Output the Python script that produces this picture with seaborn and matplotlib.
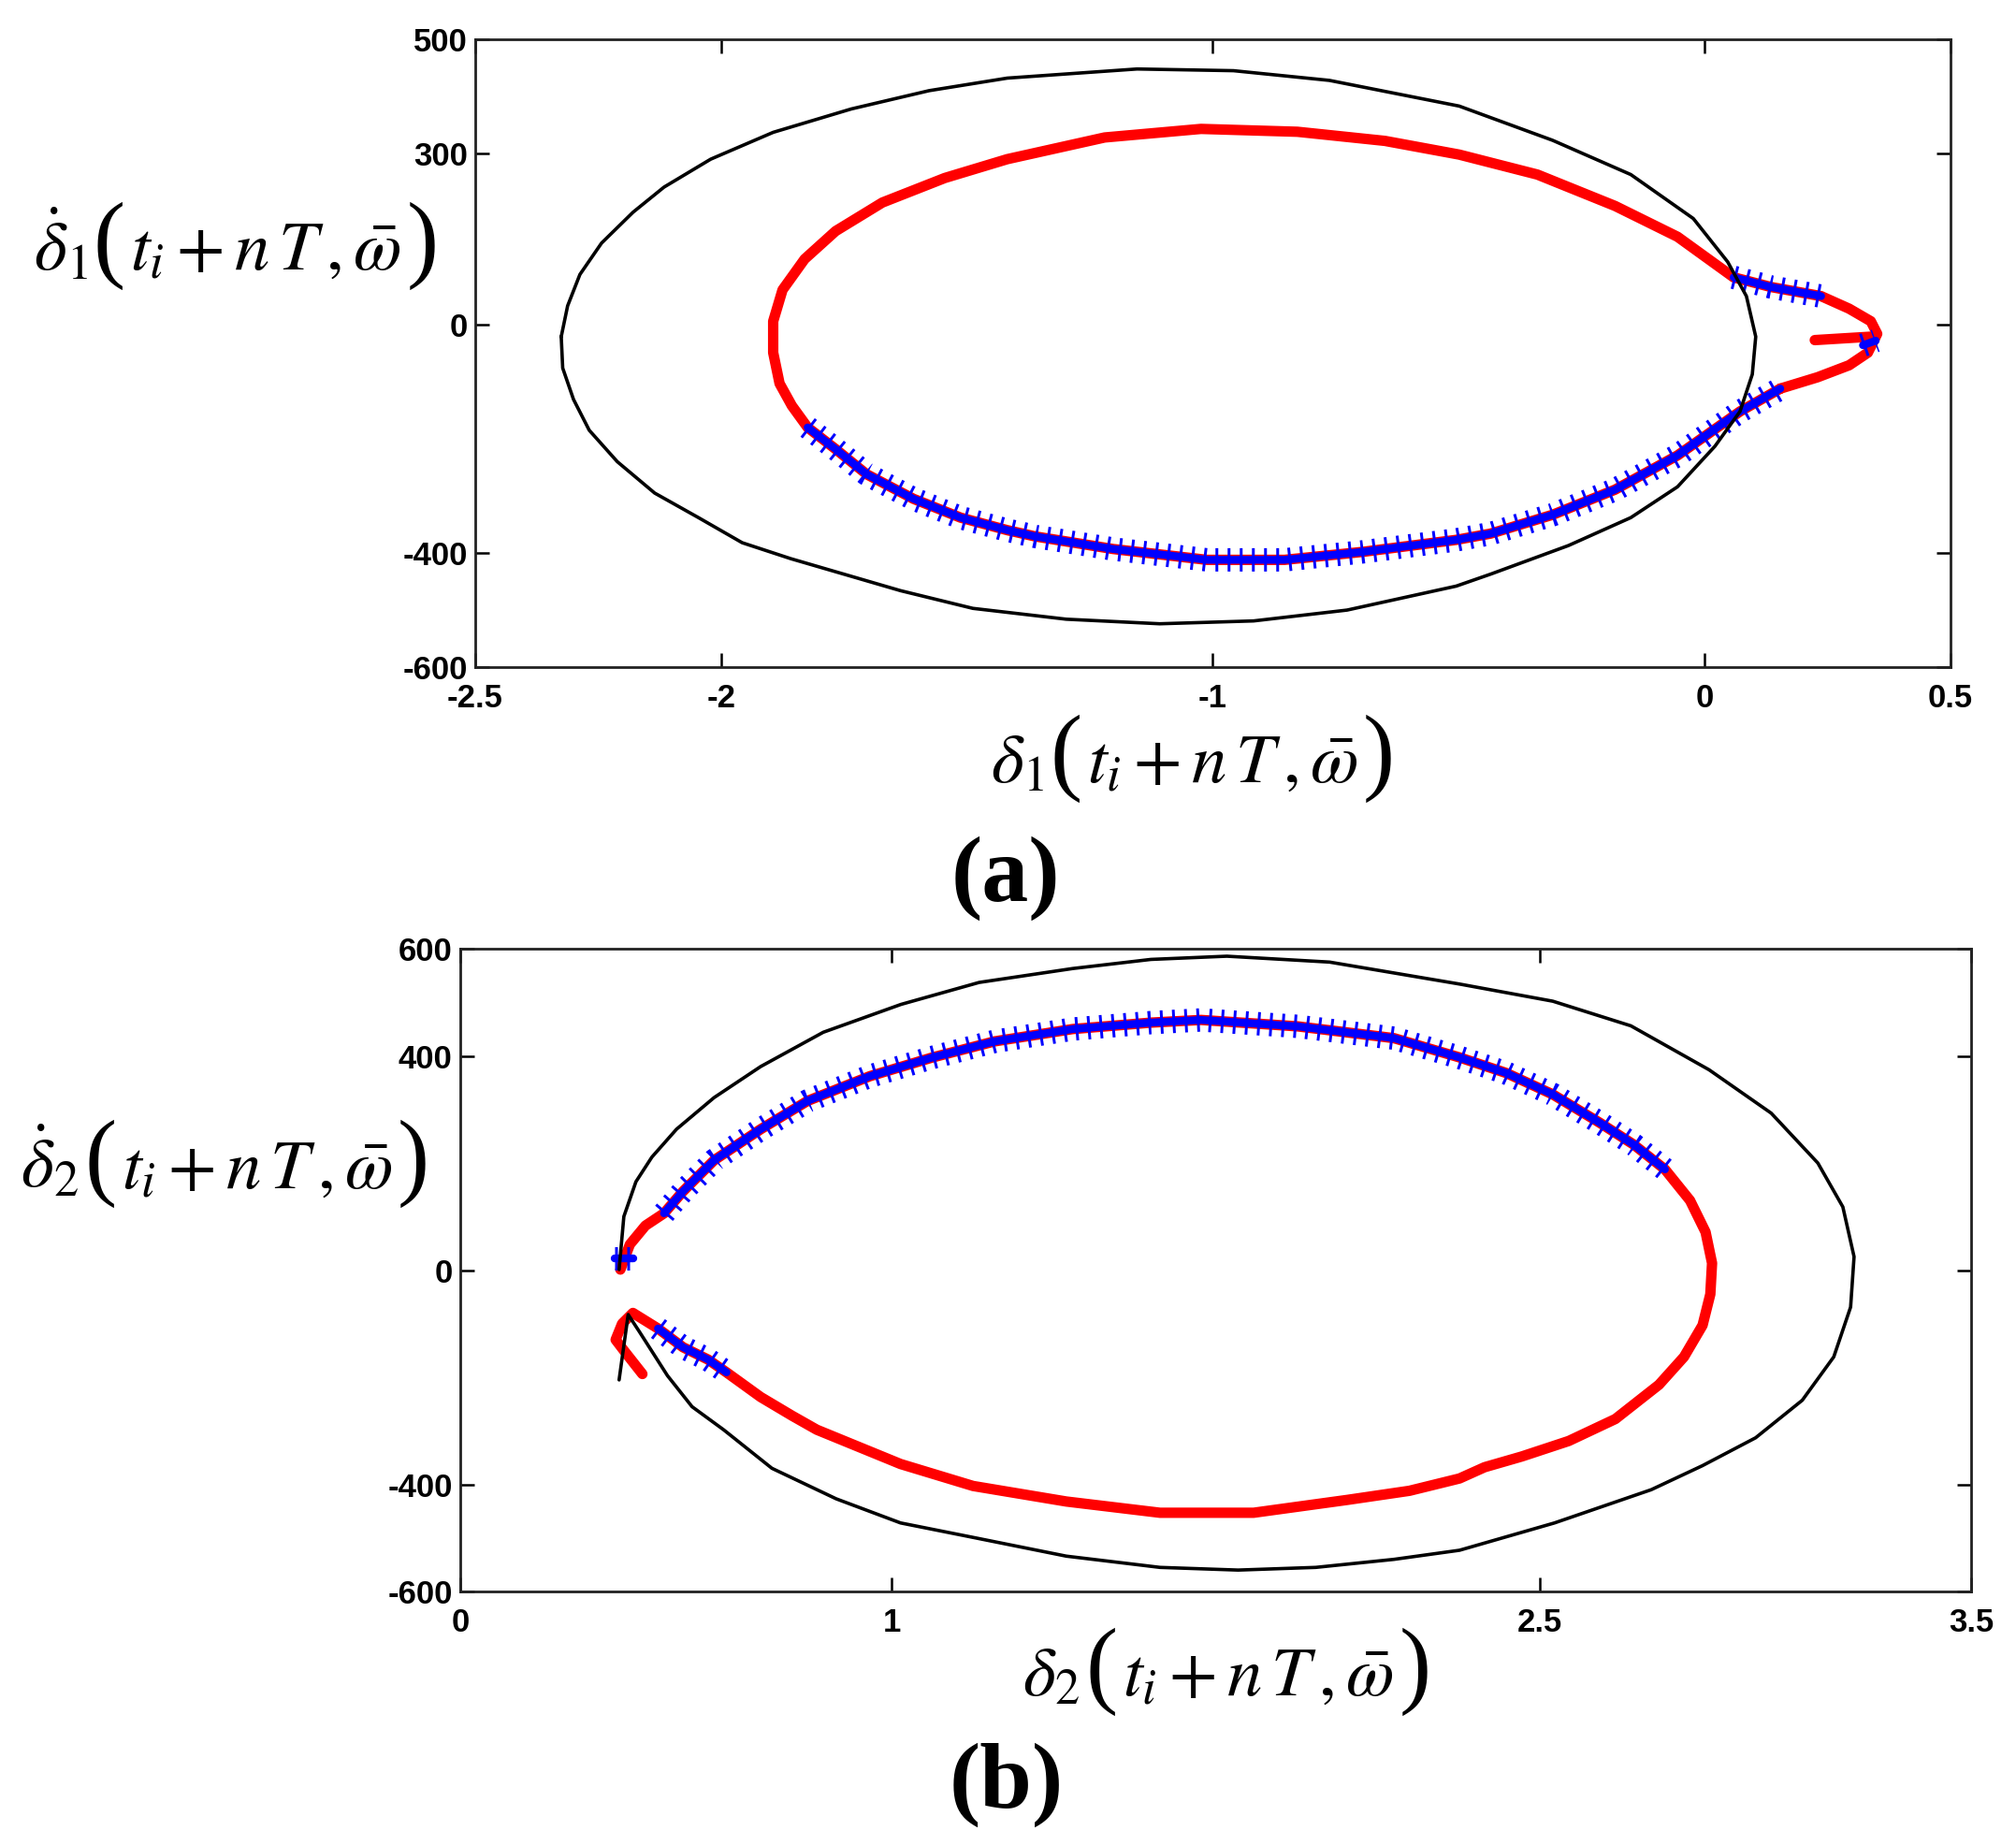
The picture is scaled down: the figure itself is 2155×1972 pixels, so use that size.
import matplotlib
matplotlib.use('Agg')
import matplotlib.pyplot as plt
from matplotlib.offsetbox import TextArea, HPacker, AnnotationBbox
import seaborn as sns

# ---------------- panel (a) ----------------
a_black_x = [-2.325, -2.312, -2.287, -2.243, -2.179, -2.116, -2.021, -1.894, -1.735, -1.577, -1.418,
             -1.154, -0.958, -0.763, -0.499, -0.309, -0.150, -0.023, 0.047, 0.085, 0.104, 0.097,
             0.072, 0.021, -0.055, -0.150, -0.277, -0.435, -0.505, -0.727, -0.917, -1.108, -1.298,
             -1.488, -1.635, -1.858, -1.957, -2.046, -2.135, -2.211, -2.268, -2.300, -2.322, -2.325]
a_black_y = [-21, 33, 88, 143, 197, 241, 290, 337, 378, 410, 432,
             448, 445, 428, 383, 323, 263, 186, 110, 50, -21, -87,
             -152, -213, -284, -338, -387, -437, -458, -500, -519, -524, -516,
             -497, -466, -410, -382, -338, -295, -240, -185, -131, -76, -21]

a_red_x = [0.154, 0.230, 0.294, 0.332, 0.351, 0.338, 0.294, 0.237, 0.135, 0.059, -0.055, -0.182,
           -0.340, -0.499, -0.650, -0.828, -1.024, -1.220, -1.418, -1.545, -1.672, -1.767, -1.830,
           -1.875, -1.894, -1.894, -1.881, -1.856, -1.824, -1.767, -1.704, -1.609, -1.513, -1.418,
           -1.361, -1.203, -1.012, -0.854, -0.695, -0.505, -0.435, -0.309, -0.182, -0.055, 0.072, 0.154]
a_red_y = [-112, -92, -71, -49, -16, 6, 28, 50, 66, 83, 154, 208,
           263, 298, 322, 338, 343, 328, 290, 257, 214, 164, 115,
           61, 6, -49, -103, -142, -180, -218, -262, -305, -338, -360,
           -371, -393, -412, -412, -398, -377, -366, -333, -289, -229, -152, -112]

a_tail_x = [0.224, 0.338]
a_tail_y = [-27, -21]

a_blue1_x = [-1.824, -1.767, -1.704, -1.609, -1.513, -1.418, -1.361, -1.203, -1.012, -0.854,
             -0.695, -0.505, -0.435, -0.309, -0.182, -0.055, 0.072, 0.154]
a_blue1_y = [-180, -218, -262, -305, -338, -360, -371, -393, -412, -412,
             -398, -377, -366, -333, -289, -229, -152, -112]
a_blue2_x = [0.059, 0.135, 0.237]
a_blue2_y = [83, 66, 50]
a_blue3_x = [0.322, 0.348]
a_blue3_y = [-36, -28]

a_xticks = [-2.5, -2, -1, 0, 0.5]
a_xlabels = ['-2.5', '-2', '-1', '0', '0.5']
a_yticks = [500, 300, 0, -400, -600]
a_ylabels = ['500', '300', '0', '-400', '-600']

# ---------------- panel (b) ----------------
b_black_x = [0.368, 0.379, 0.407, 0.444, 0.501, 0.588, 0.696, 0.841, 1.021, 1.202, 1.419, 1.600,
             1.776, 2.014, 2.315, 2.531, 2.712, 2.893, 3.037, 3.145, 3.203, 3.229, 3.221, 3.182,
             3.109, 3.001, 2.878, 2.759, 2.535, 2.315, 2.163, 1.982, 1.802, 1.621, 1.404, 1.188,
             1.020, 0.871, 0.722, 0.610, 0.537, 0.480, 0.415, 0.389, 0.368]
b_black_y = [1, 100, 165, 211, 263, 322, 380, 444, 496, 537, 563, 580,
             586, 575, 534, 502, 456, 374, 293, 200, 118, 25, -69, -162,
             -243, -313, -365, -410, -472, -523, -540, -555, -560, -555, -534, -499,
             -472, -427, -370, -298, -255, -197, -115, -83, -205]

b_red_x = [0.371, 0.393, 0.429, 0.472, 0.516, 0.588, 0.696, 0.805, 0.949, 1.094, 1.238, 1.419,
           1.600, 1.716, 1.940, 2.163, 2.315, 2.423, 2.531, 2.640, 2.719, 2.791, 2.849, 2.885,
           2.900, 2.896, 2.878, 2.835, 2.777, 2.676, 2.568, 2.459, 2.373, 2.315, 2.199, 2.055,
           1.838, 1.621, 1.404, 1.188, 1.020, 0.826, 0.769, 0.696, 0.617, 0.574, 0.516, 0.458,
           0.400, 0.375, 0.360, 0.379, 0.422]
b_red_y = [1, 48, 83, 106, 147, 205, 263, 316, 362, 397, 427, 450,
           462, 467, 455, 433, 397, 368, 328, 275, 234, 188, 130, 71,
           13, -45, -103, -162, -214, -278, -319, -348, -368, -389, -412, -429,
           -453, -453, -432, -403, -362, -298, -272, -237, -191, -167, -144, -109,
           -80, -100, -130, -150, -194]

b_blue1_x = [0.472, 0.516, 0.588, 0.696, 0.805, 0.949, 1.094, 1.238, 1.419, 1.600, 1.716, 1.940,
             2.163, 2.315, 2.423, 2.531, 2.640, 2.719, 2.791]
b_blue1_y = [106, 147, 205, 263, 316, 362, 397, 427, 450, 462, 467, 455,
             433, 397, 368, 328, 275, 234, 188]
b_blue2_x = [0.458, 0.516, 0.574, 0.617]
b_blue2_y = [-109, -144, -167, -191]
b_blue3_x = [0.357, 0.400]
b_blue3_y = [22, 22]

b_xticks = [0, 1, 2.5, 3.5]
b_xlabels = ['0', '1', '2.5', '3.5']
b_yticks = [600, 400, 0, -400, -600]
b_ylabels = ['600', '400', '0', '-400', '-600']

sns.set_style('ticks')
plt.rcParams['font.family'] = ['Liberation Sans', 'DejaVu Sans']
plt.rcParams['mathtext.fontset'] = 'stix'
plt.rcParams['lines.scale_dashes'] = True
plt.rcParams['text.color'] = 'black'


def trace(ax, x, y, **kw):
    sns.lineplot(x=x, y=y, sort=False, estimator=None, ax=ax, **kw)


def blue_plus(ax, x, y):
    # dense '+' markers: a band plus short perpendicular ticks
    trace(ax, x, y, color='#0000ff', linewidth=6, zorder=3)
    trace(ax, x, y, color='#0000ff', linewidth=18, linestyle=(0, (0.12, 0.4)), zorder=3)


def style_axes(ax, xlim, ylim, xt, xl, yt, yl):
    ax.set_xlim(xlim)
    ax.set_ylim(ylim)
    ax.set_xticks(xt)
    ax.set_xticklabels(xl, fontweight='bold')
    ax.set_yticks(yt)
    ax.set_yticklabels(yl, fontweight='bold')
    ax.tick_params(axis='both', direction='in', length=11, width=1.8, top=True, right=True,
                   labelsize=25, colors='black')
    ax.tick_params(axis='x', pad=12)
    ax.tick_params(axis='y', pad=6)
    for s in ax.spines.values():
        s.set_visible(True)
        s.set_color('#222222')
        s.set_linewidth(2)
    ax.set_xlabel('')
    ax.set_ylabel('')


def math_label(fig, head, x, y):
    # symbol, big parentheses and argument packed on one baseline
    paren = dict(fontsize=74, family='Liberation Serif', color='black')
    body = dict(fontsize=54, color='black')
    parts = [TextArea(head, textprops=body),
             TextArea('(', textprops=paren),
             TextArea(r'$t_{i}+n\,T\,,\bar{\omega}$', textprops=body),
             TextArea(')', textprops=paren)]
    box = HPacker(children=parts, align='baseline', pad=0, sep=4)
    ab = AnnotationBbox(box, (x, y), xycoords='figure fraction', frameon=False,
                        box_alignment=(0.5, 0.5), pad=0)
    fig.add_artist(ab)


fig = plt.figure(figsize=(21.55, 19.72), dpi=100)

ax1 = fig.add_axes([0.2357, 0.6384, 0.7318, 0.3403])
trace(ax1, a_red_x, a_red_y, color='#ff0000', linewidth=8, zorder=2)
trace(ax1, a_tail_x, a_tail_y, color='#ff0000', linewidth=8, zorder=2)
blue_plus(ax1, a_blue1_x, a_blue1_y)
blue_plus(ax1, a_blue2_x, a_blue2_y)
blue_plus(ax1, a_blue3_x, a_blue3_y)
trace(ax1, a_black_x, a_black_y, color='black', linewidth=2.6, zorder=4)
style_axes(ax1, (-2.5, 0.5), (-600, 500), a_xticks, a_xlabels, a_yticks, a_ylabels)

ax2 = fig.add_axes([0.2283, 0.1374, 0.7494, 0.3484])
trace(ax2, b_red_x, b_red_y, color='#ff0000', linewidth=8, zorder=2)
blue_plus(ax2, b_blue1_x, b_blue1_y)
blue_plus(ax2, b_blue2_x, b_blue2_y)
blue_plus(ax2, b_blue3_x, b_blue3_y)
trace(ax2, b_black_x, b_black_y, color='black', linewidth=2.6, zorder=4)
style_axes(ax2, (0, 3.5), (-600, 600), b_xticks, b_xlabels, b_yticks, b_ylabels)

math_label(fig, r'$\dot{\delta}_{\mathit{1}}$', 0.117, 0.8666)
math_label(fig, r'$\delta_{\mathit{1}}$', 0.5918, 0.5888)
math_label(fig, r'$\dot{\delta}_{\mathit{2}}$', 0.1116, 0.369)
math_label(fig, r'$\delta_{\mathit{2}}$', 0.6085, 0.0938)

fig.text(0.499, 0.524, '(a)', fontsize=72, fontweight='bold', family='Liberation Serif',
         ha='center', va='center', color='black')
fig.text(0.499, 0.0325, '(b)', fontsize=72, fontweight='bold', family='Liberation Serif',
         ha='center', va='center', color='black')

fig.savefig('out.png', dpi=100, facecolor='white')
